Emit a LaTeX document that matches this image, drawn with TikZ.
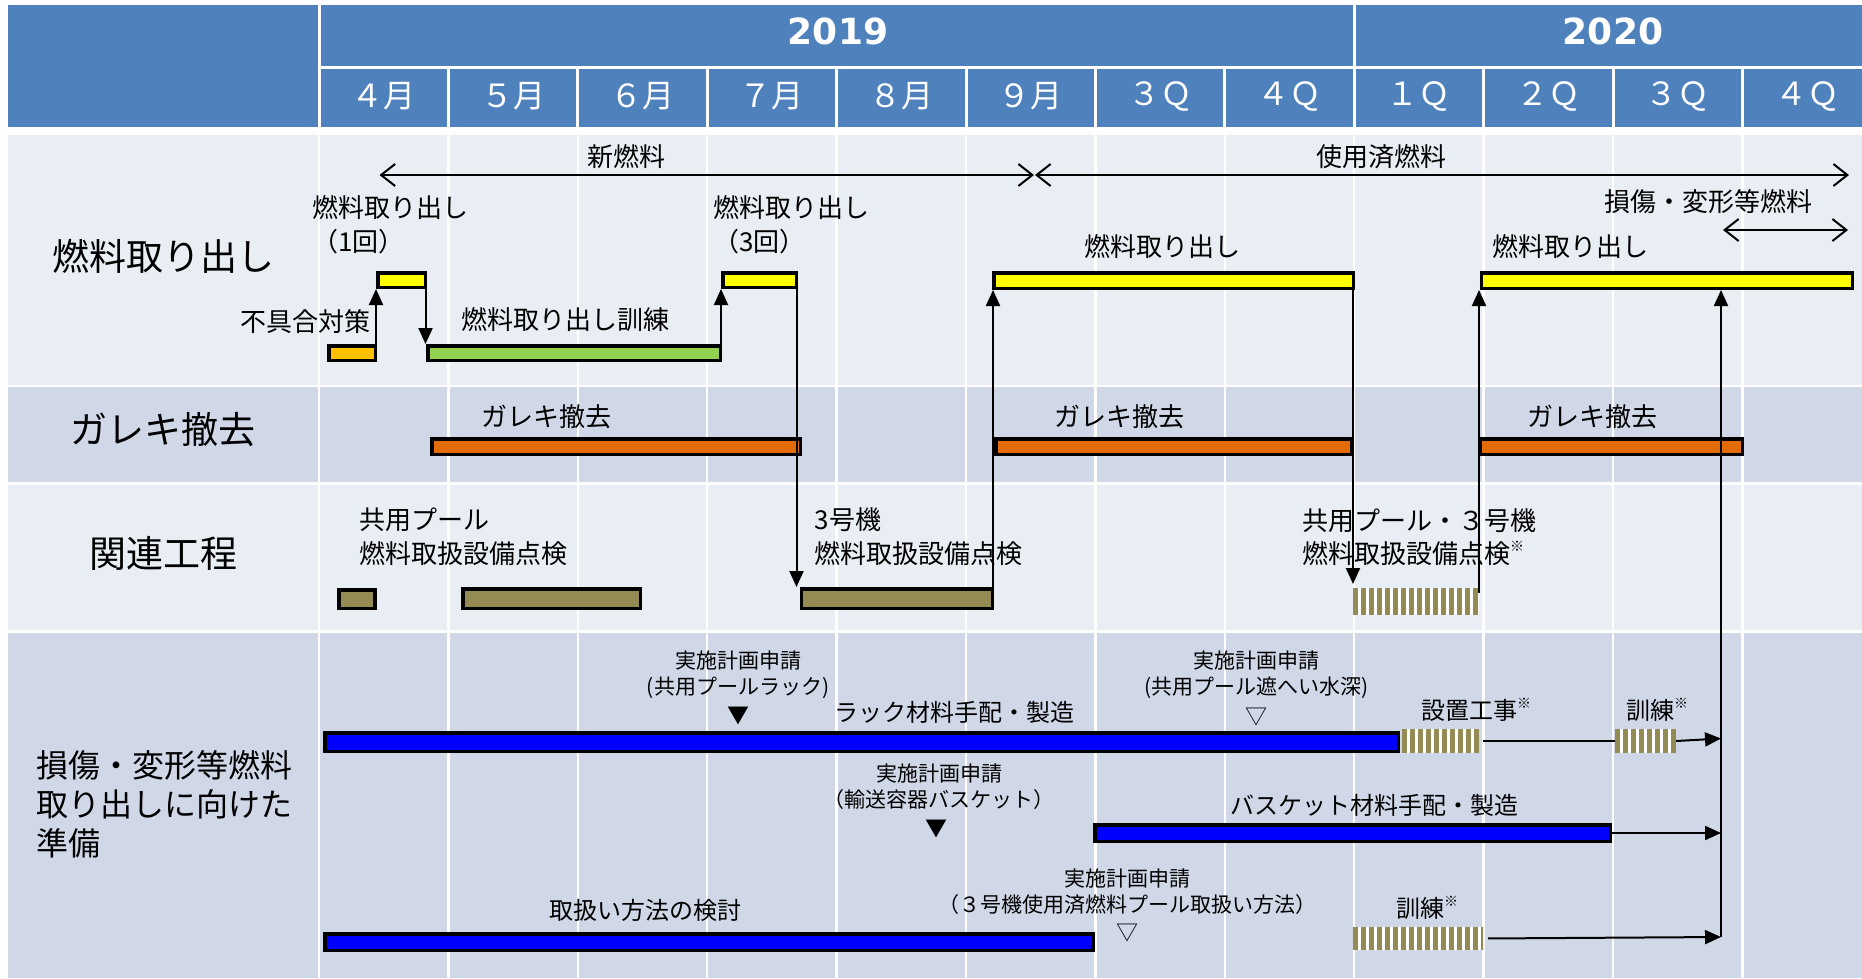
\documentclass[tikz,border=0pt]{standalone}
\usepackage{fontspec}
\setmainfont{Noto Sans CJK JP}
\newfontfamily\yrfont{DejaVu Sans}
\usetikzlibrary{arrows.meta}
\definecolor{hdr}{HTML}{4F81BD}
\definecolor{rowA}{HTML}{E9EDF4}
\definecolor{rowB}{HTML}{D0D8E8}
\definecolor{cyel}{HTML}{FFFF00}
\definecolor{corg}{HTML}{FFC000}
\definecolor{cgrn}{HTML}{92D050}
\definecolor{cgar}{HTML}{E36C09}
\definecolor{coli}{HTML}{948A54}
\definecolor{cblu}{HTML}{0000FF}
\newcommand\gbar[6]{\node[gbarst,fill=#6,minimum width={#4-#2-3.5},minimum height={#5-#3-3.5}] (#1) at ({(#2+#4)/2},{(#3+#5)/2}) {};}
\newcommand\stripebar[5]{\node[stripest,minimum width={#4-#2},minimum height={#5-#3}] (#1) at ({(#2+#4)/2},{(#3+#5)/2}) {};
  \begin{scope}\clip (#2,#3) rectangle (#4,#5);
  \foreach \k in {0,...,17}{\fill[coli] ({#2+\k*8},#3) rectangle ({#2+\k*8+4.6},#5);}
  \end{scope}}
\newcommand\kome{\raisebox{0.45em}{\fontsize{14}{14}\selectfont ※}}
\tikzset{
  gbarst/.style={draw=black,line width=3.5pt,outer sep=1.75pt,inner sep=0pt},
  stripest/.style={fill=white,inner sep=0pt,outer sep=0pt},
  arr/.style={line width=2pt,-{Triangle[length=16pt,width=14pt]}},
  ln/.style={line width=2pt},
  barb/.style={line width=2pt,{Straight Barb[length=14pt,width=22pt]}-{Straight Barb[length=14pt,width=22pt]}},
  lab/.style={font=\fontsize{26}{33.5}\selectfont},
  sml/.style={font=\fontsize{21}{26.3}\selectfont,align=center},
  mid/.style={font=\fontsize{24}{28}\selectfont},
  rowlab/.style={font=\fontsize{37}{44}\selectfont},
  mon/.style={font=\fontsize{32}{36}\selectfont,text=white},
  yr/.style={font=\yrfont\bfseries\fontsize{36}{40}\selectfont,text=white},
  tri/.style={font=\fontsize{22}{24}\selectfont},
  gridl/.style={white,line width=2.5pt}
}
\begin{document}
\begin{tikzpicture}[x=1pt,y=-1pt,every node/.style={inner sep=0pt}]
\fill[white] (0,0) rectangle (1862,978);
\useasboundingbox (0,0) rectangle (1862,978);
% header
\fill[hdr] (8,5) rectangle (1862,126.7);
\draw[white,line width=3pt] (319,67.5) -- (1862,67.5);
\draw[white,line width=3pt] (319,5) -- (319,126.7);
\foreach \i in {1,...,11}{\draw[white,line width=3pt] ({319+129.4*\i},67.5) -- ({319+129.4*\i},126.7);}
\draw[white,line width=3pt] (1354.2,5) -- (1354.2,67.5);
% rows
\fill[rowA] (8,135) rectangle (1862,384.5);
\fill[rowB] (8,387) rectangle (1862,481.5);
\fill[rowA] (8,484.5) rectangle (1862,630);
\fill[rowB] (8,633) rectangle (1862,978);
\foreach \i in {0,...,11}{\draw[gridl] ({319+129.4*\i},135) -- ({319+129.4*\i},978);}
% header texts
\node[yr] (y2019) at (838,31.5) {2019};
\node[yr] (y2020) at (1613,31.5) {2020};
\foreach \t [count=\i from 0] in {４月,５月,６月,７月,８月,９月,３Ｑ,４Ｑ,１Ｑ,２Ｑ,３Ｑ,４Ｑ}
  {\node[mon] (m\i) at ({319+129.4*\i+64.7},96) {\t};}
% row labels
\node[rowlab] (r1) at (163,256.7) {燃料取り出し};
\node[rowlab] (r2) at (163,430) {ガレキ撤去};
\node[rowlab] (r3) at (163,553) {関連工程};
\node[font=\fontsize{32}{39}\selectfont,align=left,anchor=west] (r4) at (36,804) {損傷・変形等燃料\\取り出しに向けた\\準備};
% row 1 texts
\node[lab] (tNew) at (626,156.7) {新燃料};
\node[lab] (tUsed) at (1381.5,156.7) {使用済燃料};
\node[lab] (tDmg) at (1708,201.7) {損傷・変形等燃料};
\node[lab,align=left,anchor=west] (t1) at (312,225) {燃料取り出し\\（1回）};
\node[lab,align=left,anchor=west] (t3) at (713,225) {燃料取り出し\\（3回）};
\node[lab] (tFix) at (305,321.7) {不具合対策};
\node[lab] (tTrain) at (565,320) {燃料取り出し訓練};
\node[lab] (tEx2) at (1162,246.7) {燃料取り出し};
\node[lab] (tEx3) at (1570,246.7) {燃料取り出し};
% row 2 texts
\node[lab] (tG1) at (546,416.7) {ガレキ撤去};
\node[lab] (tG2) at (1119,416.7) {ガレキ撤去};
\node[lab] (tG3) at (1592,416.7) {ガレキ撤去};
% row 3 texts
\node[lab,align=left,anchor=west] (tP1) at (359.5,536.7) {共用プール\\燃料取扱設備点検};
\node[lab,align=left,anchor=west] (tP2) at (814.5,536.7) {3号機\\燃料取扱設備点検};
\node[lab,align=left,anchor=west] (tP3) at (1302,537) {共用プール・３号機\\燃料取扱設備点検\kome};
% row 4 texts
\node[sml] (tA1) at (738,675) {実施計画申請\\(共用プールラック)};
\node[tri] (v1) at (738,716) {▼};
\node[mid] (tRack) at (954,712) {ラック材料手配・製造};
\node[sml] (tA2) at (1256.7,675) {実施計画申請\\(共用プール遮へい水深)};
\node[tri] (v2) at (1256.7,717) {▽};
\node[mid,anchor=base west] (tInst) at (1421,719) {設置工事\kome};
\node[mid,anchor=base west] (tTr1) at (1626,719) {訓練\kome};
\node[sml] (tA3) at (939,786.5) {実施計画申請\\（輸送容器バスケット）};
\node[tri] (v3) at (936,829) {▼};
\node[mid] (tBask) at (1374,805) {バスケット材料手配・製造};
\node[sml] (tA4) at (1127.5,891.5) {実施計画申請\\（３号機使用済燃料プール取扱い方法）};
\node[tri] (v4) at (1127,933) {▽};
\node[mid] (tMeth) at (645,910) {取扱い方法の検討};
\node[mid,anchor=base west] (tTr2) at (1396,917) {訓練\kome};
% bars
\gbar{by1}{376}{271}{427}{289}{cyel}
\gbar{bob}{327}{344}{377}{362}{corg}
\gbar{bgr}{426}{344}{722}{362}{cgrn}
\gbar{by2}{721}{271}{798}{289}{cyel}
\gbar{byl}{992}{271}{1355}{290}{cyel}
\gbar{by3}{1479.5}{271}{1854}{290}{cyel}
\gbar{bg1}{430}{437}{802}{456}{cgar}
\gbar{bg2}{994}{437}{1353}{456}{cgar}
\gbar{bg3}{1478}{437}{1744}{456}{cgar}
\gbar{bo1}{337}{588}{376.5}{610}{coli}
\gbar{bo2}{461}{587}{642}{610}{coli}
\gbar{bo3}{799.5}{587}{994}{610}{coli}
\stripebar{st0}{1353}{588}{1479}{615}
\gbar{bb1}{323}{731}{1400}{753}{cblu}
\stripebar{st1}{1402}{729}{1479}{753}
\stripebar{st2}{1615}{729}{1676}{753}
\gbar{bb2}{1093}{823}{1612}{843}{cblu}
\gbar{bb3}{323}{932}{1095}{952}{cblu}
\stripebar{st3}{1353}{927}{1483}{950}
% period arrows
\coordinate (nA) at (379.5,175); \coordinate (nB) at (1034,175);
\coordinate (uA) at (1035,175); \coordinate (uB) at (1849,175);
\coordinate (dA) at (1723,230); \coordinate (dB) at (1848,230);
\draw[barb] (nA) -- (nB);
\draw[barb] (uA) -- (uB);
\draw[barb] (dA) -- (dB);
% connectors
\draw[arr] ([xshift=-1pt]bob.north east) -- ([xshift=-1pt]bob.north east |- by1.south);
\draw[arr] ([xshift=-1.5pt]by1.south east) -- ([xshift=-1.5pt]by1.south east |- bgr.north);
\draw[arr] ([xshift=-1pt]bgr.north east) -- ([xshift=-1pt]bgr.north east |- by2.south);
\draw[arr] ([xshift=-1.5pt]by2.south east) -- ([xshift=-1.5pt]by2.south east |- bo3.north);
\draw[arr] ([xshift=-1pt]bo3.north east) -- ([xshift=-1pt]bo3.north east |- byl.south);
\draw[arr,shorten >=4pt] ([xshift=-2pt]byl.south east) -- ([xshift=-2pt]byl.south east |- st0.north);
\draw[arr] ([yshift=-5pt]st0.north east) -- (st0.north east |- by3.south);
\coordinate (j1) at (1721,738.5);
\coordinate (j2) at (1721,833);
\coordinate (j3) at (1721,937);
\draw[arr] (j3) -- (j3 |- by3.south);
\draw[ln,shorten <=4pt] (st1.east) -- (st2.west);
\draw[arr] (st2.east) -- (j1);
\draw[arr] (bb2.east) -- (j2);
\draw[arr,shorten <=5pt] (st3.east) -- (j3);
\end{tikzpicture}
\end{document}
